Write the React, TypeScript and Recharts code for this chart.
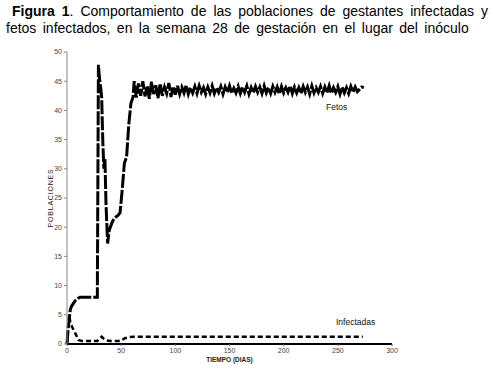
import React from 'react'
import { LineChart, Line, XAxis, YAxis, Label } from 'recharts'

// Fetos: días y valores
const fetosDays = [
  0, 1, 2, 3, 4, 6, 8, 10, 12, 20, 28, 29, 30, 31, 32, 33, 34, 35, 36, 37.5, 39, 40, 42, 44, 47, 49, 51, 53, 55, 57, 59, 61,
  62, 64, 66, 68, 70, 72, 74, 76, 78, 80, 82, 84, 86, 88, 90, 92, 94, 96, 98, 100,
  102, 104, 106, 108, 110, 112, 114, 116, 118, 120, 122, 124, 126, 128, 130, 132, 134, 136, 138, 140,
  142, 144, 146, 148, 150, 152, 154, 156, 158, 160, 162, 164, 166, 168, 170, 172, 174, 176, 178, 180,
  182, 184, 186, 188, 190, 192, 194, 196, 198, 200, 202, 204, 206, 208, 210, 212, 214, 216, 218, 220,
  222, 224, 226, 228, 230, 232, 234, 236, 238, 240, 242, 244, 246, 248, 250, 252, 254, 256, 258, 260,
  262, 264, 266, 268, 270, 272, 274,
]
const fetosValues = [
  0, 2.5, 4.2, 5.8, 6.4, 7.0, 7.5, 7.8, 8.0, 8.0, 8.0, 47.8, 45.5, 44.0, 42.3, 35.0, 30.0, 31.8, 24.0, 17.2, 19.5, 20.0, 21.0, 21.6, 22.0, 22.5, 26.5, 31.0, 32.0, 37.5, 41.2, 42.3,
  45.0, 42.2, 44.6, 42.5, 45.0, 42.4, 44.2, 42.0, 44.9, 42.8, 44.3, 42.1, 44.6, 42.5, 44.0, 42.9, 44.7, 42.3, 44.1, 42.7,
  44.2, 42.8, 44.0, 43.0, 44.3, 42.8, 43.9, 43.0, 44.1, 42.9, 44.2, 43.1, 43.9, 42.8, 44.0, 43.0, 44.2, 42.9, 43.9, 43.1,
  44.1, 42.8, 44.0, 43.1, 44.2, 42.9, 43.8, 43.0, 44.1, 42.9, 44.0, 43.1, 44.2, 42.8, 43.9, 43.0, 44.1, 43.1, 44.0, 42.9,
  44.2, 43.0, 43.9, 42.9, 44.1, 43.1, 44.0, 42.8, 44.1, 43.0, 43.9, 43.1, 44.2, 42.9, 44.0, 43.0, 43.9, 42.9, 44.1, 43.1,
  44.0, 42.8, 44.2, 43.0, 43.9, 43.1, 44.1, 42.9, 44.0, 43.0, 44.2, 42.9, 43.9, 43.1, 44.1, 42.8, 44.0, 43.0, 43.9, 42.9,
  44.1, 43.1, 44.0, 43.2, 43.6, 44.0, 43.9,
]

// Infectadas
const infDays = [0, 1, 2, 3, 4.5, 7.5, 10.5, 14, 20, 28, 30, 32, 34, 36.5, 40, 45, 49, 53.5, 58, 62, 100, 150, 200, 250, 273]
const infValues = [0, 3.0, 5.0, 3.8, 3.0, 1.9, 0.7, 0.5, 0.5, 0.5, 0.9, 1.25, 0.9, 0.6, 0.5, 0.5, 0.5, 1.0, 1.2, 1.25, 1.25, 1.25, 1.25, 1.25, 1.25]

const xTicks = [0, 50, 100, 150, 200, 250, 300]
const yTicks = [0, 5, 10, 15, 20, 25, 30, 35, 40, 45, 50]

const fetosData = fetosDays.map((d, i) => ({ day: d, fetos: fetosValues[i] }))
const infData = infDays.map((d, i) => ({ day: d, inf: infValues[i] }))

const font = 'Arial, "Liberation Sans", sans-serif'

export default function App() {
  return (
    <div style={{ position: 'absolute', left: 0, top: 0, width: 493, height: 370, background: '#fff', fontFamily: font }}>
      <div style={{ position: 'absolute', left: 12, top: 3, width: 476, fontSize: 14, lineHeight: '17px', color: '#000', textAlign: 'justify', textAlignLast: 'justify' }}>
        <b>Figura 1</b>. Comportamiento de las poblaciones de gestantes infectadas y
      </div>
      <div style={{ position: 'absolute', left: 6, top: 20, fontSize: 14, lineHeight: '17px', color: '#000', wordSpacing: 2.5, whiteSpace: 'nowrap' }}>
        fetos infectados, en la semana 28 de gestación en el lugar del inóculo
      </div>
      <LineChart width={493} height={370} margin={{ top: 52, right: 101, bottom: 0, left: 37 }}>
        <XAxis
          type="number"
          dataKey="day"
          domain={[0, 300]}
          ticks={xTicks}
          height={26}
          tick={{ fontSize: 7, fill: '#444', fontFamily: font }}
          tickSize={2}
          axisLine={{ stroke: '#000', strokeWidth: 2 }}
          tickLine={{ stroke: '#666' }}
          allowDuplicatedCategory={false}
        >
          <Label value="TIEMPO (DIAS)" position="insideBottom" offset={8} fill="#222" style={{ fontSize: 6.5, fill: '#222', fontWeight: 'bold', fontFamily: font }} />
        </XAxis>
        <YAxis
          type="number"
          domain={[0, 50]}
          ticks={yTicks}
          width={30}
          tick={{ fontSize: 7, fill: '#444', fontFamily: font }}
          tickSize={3}
          axisLine={{ stroke: '#888' }}
          tickLine={{ stroke: '#888' }}
        >
          <Label value="POBLACIONES" angle={-90} position="insideLeft" offset={14} fill="#222" style={{ fontSize: 7, fill: '#222', fontFamily: font, textAnchor: 'middle', letterSpacing: 0.8 }} />
        </YAxis>
        <Line
          data={fetosData}
          dataKey="fetos"
          type="linear"
          stroke="#000"
          strokeWidth={3}
          strokeDasharray="14 2"
          dot={false}
          isAnimationActive={false}
        />
        <Line
          data={infData}
          dataKey="inf"
          type="linear"
          stroke="#000"
          strokeWidth={2.5}
          strokeDasharray="5 3"
          dot={false}
          isAnimationActive={false}
        />
      </LineChart>
      <div style={{ position: 'absolute', left: 326, top: 102, fontSize: 8.5, color: '#111' }}>Fetos</div>
      <div style={{ position: 'absolute', left: 336, top: 317, fontSize: 8.5, color: '#111' }}>Infectadas</div>
    </div>
  )
}
